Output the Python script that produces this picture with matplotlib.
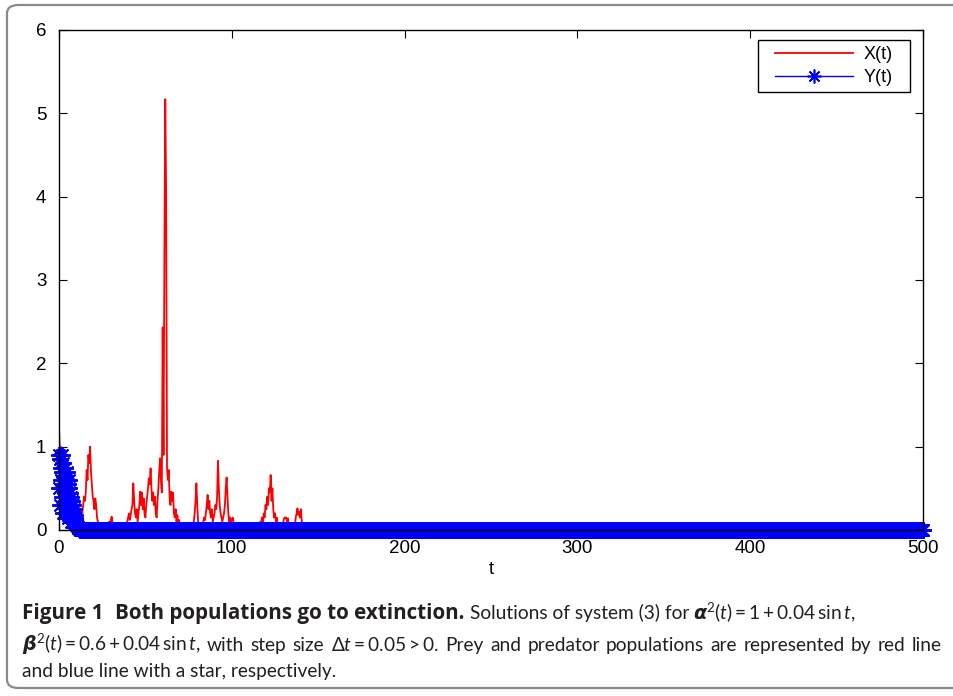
import numpy as np
import matplotlib
matplotlib.use("Agg")
import matplotlib.pyplot as plt
from matplotlib.patches import FancyBboxPatch
from matplotlib.path import Path
from matplotlib import font_manager

# prey X(t), sampled every 0.5 from t = 0 to 145 (zero afterwards)
x_step = 0.5
x_vals = [
    1.22, 0.95, 1.0, 0.75, 0.6, 0.55, 0.8, 0.65, 0.5, 0.55,
    0.45, 0.35, 0.4, 0.45, 0.3, 0.2, 0.15, 0.1, 0.06, 0.03,
    0.02, 0.04, 0.08, 0.12, 0.1, 0.18, 0.25, 0.2, 0.3, 0.4,
    0.35, 0.45, 0.72, 0.6, 0.9, 0.8, 1.0, 0.7, 0.55, 0.4,
    0.35, 0.25, 0.38, 0.3, 0.15, 0.1, 0.05, 0.03, 0.02, 0.01,
    0.02, 0.05, 0.03, 0.01, 0.0, 0.0, 0.02, 0.06, 0.1, 0.05,
    0.12, 0.16, 0.08, 0.03, 0.01, 0.0, 0.0, 0.0, 0.01, 0.0,
    0.0, 0.0, 0.01, 0.02, 0.0, 0.01, 0.03, 0.05, 0.08, 0.1,
    0.15, 0.2, 0.12, 0.18, 0.25, 0.3, 0.56, 0.35, 0.2, 0.15,
    0.25, 0.1, 0.2, 0.3, 0.46, 0.3, 0.45, 0.25, 0.38, 0.2,
    0.15, 0.3, 0.4, 0.5, 0.62, 0.55, 0.74, 0.5, 0.35, 0.45,
    0.3, 0.4, 0.2, 0.15, 0.35, 0.5, 0.7, 0.86, 0.6, 0.45,
    2.43, 0.9, 3.32, 5.17, 4.06, 0.75, 0.6, 0.72, 0.4, 0.3,
    0.46, 0.35, 0.45, 0.2, 0.15, 0.25, 0.1, 0.18, 0.08, 0.12,
    0.05, 0.02, 0.0, 0.0, 0.0, 0.0, 0.0, 0.0, 0.0, 0.0,
    0.0, 0.0, 0.0, 0.0, 0.02, 0.05, 0.1, 0.2, 0.35, 0.56,
    0.3, 0.1, 0.05, 0.02, 0.0, 0.02, 0.05, 0.1, 0.15, 0.12,
    0.2, 0.3, 0.42, 0.25, 0.35, 0.2, 0.15, 0.25, 0.1, 0.15,
    0.2, 0.3, 0.25, 0.4, 0.83, 0.5, 0.3, 0.2, 0.15, 0.1,
    0.15, 0.2, 0.3, 0.5, 0.63, 0.4, 0.2, 0.1, 0.15, 0.08,
    0.12, 0.15, 0.1, 0.05, 0.02, 0.0, 0.0, 0.0, 0.0, 0.0,
    0.0, 0.0, 0.0, 0.0, 0.0, 0.0, 0.0, 0.0, 0.0, 0.0,
    0.0, 0.0, 0.0, 0.0, 0.0, 0.0, 0.0, 0.0, 0.0, 0.0,
    0.0, 0.02, 0.05, 0.1, 0.08, 0.15, 0.1, 0.2, 0.15, 0.3,
    0.25, 0.4, 0.3, 0.5, 0.45, 0.66, 0.35, 0.5, 0.25, 0.15,
    0.2, 0.1, 0.15, 0.05, 0.02, 0.0, 0.0, 0.0, 0.0, 0.05,
    0.12, 0.15, 0.14, 0.15, 0.1, 0.14, 0.05, 0.0, 0.0, 0.0,
    0.0, 0.0, 0.0, 0.05, 0.15, 0.2, 0.26, 0.18, 0.22, 0.15,
    0.25, 0.1, 0.05, 0.0, 0.0, 0.0, 0.0, 0.0, 0.0, 0.0,
    0.0,
]

# predator Y(t), sampled every 0.25 from t = 0 to 12 (zero afterwards)
y_step = 0.25
y_early = [
    0.9, 0.5, 0.85, 0.3, 0.75, 0.6, 0.9, 0.4, 0.7, 0.2, 0.8, 0.55,
    0.65, 0.3, 0.75, 0.45, 0.6, 0.2, 0.7, 0.4, 0.55, 0.15, 0.6, 0.35,
    0.5, 0.25, 0.45, 0.1, 0.4, 0.3, 0.35, 0.1, 0.3, 0.2, 0.25, 0.08,
    0.18, 0.12, 0.15, 0.06, 0.1, 0.05, 0.06, 0.03, 0.04, 0.02, 0.02, 0.01,
    0.0,
]

t_end = 500
x_ticks = [0, 100, 200, 300, 400, 500]
y_ticks = [0, 1, 2, 3, 4, 5, 6]

n_x = int(t_end / x_step) + 1
n_y = int(t_end / y_step) + 1
t_x = np.arange(n_x) * x_step
t_y = np.arange(n_y) * y_step
x_full = np.array(x_vals + [0.0] * (n_x - len(x_vals)))
y_full = np.array(y_early + [0.0] * (n_y - len(y_early)))


def has_bold(name):
    for f in font_manager.fontManager.ttflist:
        if f.name == name:
            w = f.weight
            if isinstance(w, str):
                w = font_manager.weight_dict.get(w, 400)
            if w >= 600:
                return True
    return False


def first_bold(cands):
    for c in cands:
        if has_bold(c):
            return c
    return "DejaVu Sans"


cap_font = first_bold(["Lato", "Open Sans", "Noto Sans", "Roboto"])
bold_font = first_bold(["Open Sans", "Noto Sans", "Lato", "Roboto"])

plt.rcParams["font.family"] = ["Liberation Sans", "DejaVu Sans"]
plt.rcParams["font.size"] = 13.5
plt.rcParams["mathtext.fontset"] = "custom"
plt.rcParams["mathtext.rm"] = cap_font
plt.rcParams["mathtext.it"] = cap_font + ":italic"
plt.rcParams["mathtext.bf"] = cap_font + ":bold:italic"

W, H = 954, 696
fig = plt.figure(figsize=(W / 100, H / 100), dpi=100)

# outer frame of the figure panel
frame = FancyBboxPatch((7 / W, 8 / H), 1.2, 1 - 13 / H,
                       boxstyle="round,pad=0,rounding_size=0.012",
                       transform=fig.transFigure, fill=False,
                       edgecolor="#8a8a8a", linewidth=1.6)
fig.patches.append(frame)

ax = fig.add_axes([59 / W, 1 - 530 / H, 864 / W, 500 / H])

ax.plot(t_x, x_full, color="#ff0000", linewidth=1.3, label="X(t)")
ax.plot(t_y, y_full, color="#0000ff", linewidth=1.0, marker=(8, 2, 0),
        markersize=12, markeredgewidth=1.4, clip_on=False, label="Y(t)")

ax.set_xlim(0, t_end)
ax.set_ylim(0, 6)
ax.set_xticks(x_ticks)
ax.set_yticks(y_ticks)
ax.tick_params(direction="in", length=6, width=0.8, top=True, right=True,
               labelsize=13.5)
ax.tick_params(axis="x", pad=7)
ax.tick_params(axis="y", pad=9)
for sp in ax.spines.values():
    sp.set_linewidth(1.0)
ax.set_xlabel("t", fontsize=13.5, labelpad=3)

# legend, frame widened sideways a little more than on top/bottom
leg_fs = 13.0
side = 11  # px of extra frame on the left and right


def wide_box(x0, y0, width, height, mutation_size):
    x1 = x0 + width + side
    x0 = x0 - side
    y1 = y0 + height
    return Path([(x0, y0), (x1, y0), (x1, y1), (x0, y1), (x0, y0)], closed=True)


leg = ax.legend(loc="upper right",
                bbox_to_anchor=((910 - side - 59) / 864, 490 / 500),
                borderaxespad=0, fancybox=False, edgecolor="black",
                framealpha=1, handlelength=4.3, handletextpad=0.6,
                labelspacing=0.33, borderpad=0.34,
                prop={"size": leg_fs})
leg.get_frame().set_boxstyle(wide_box)
leg.get_frame().set_linewidth(1.0)
for h in leg.legend_handles:
    h.set_markersize(10)
    h.set_markeredgewidth(1.2)

# caption
renderer = fig.canvas.get_renderer()
ink = "#231f20"


def width_of(s, size, family, weight="normal"):
    t = fig.text(0, 0, s, fontsize=size, family=family, fontweight=weight)
    w = t.get_window_extent(renderer).width
    t.remove()
    return w


line3 = "and blue line with a star, respectively."
cap_size = 10 * 314 / width_of(line3, 10, cap_font)

fig_label = "Figure 1"
title_bold = "Both populations go to extinction."
bold_gap = 12
bold_size = 10 * (444 - bold_gap) / (width_of(fig_label, 10, bold_font, "bold")
                                     + width_of(title_bold, 10, bold_font, "bold"))


def put(x, y, s, size, family, weight="normal"):
    t = fig.text(x / W, 1 - y / H, s, fontsize=size, family=family,
                 fontweight=weight, va="baseline", ha="left", color=ink)
    return x + t.get_window_extent(renderer).width


# line 1
y1 = 619
x = put(22, y1, fig_label, bold_size, bold_font, "bold")
x = put(x + bold_gap, y1, title_bold, bold_size, bold_font, "bold")
x = put(x + 5, y1, "Solutions of system (3) for", cap_size, cap_font)
put(x + 4, y1, r"$\boldsymbol{\alpha}^2(t)=1+0.04\,\sin t$,", cap_size, cap_font)

# line 2, justified to the full caption width
words2 = [r"$\boldsymbol{\beta}^2(t)=0.6+0.04\,\sin t$,", "with", "step", "size",
          r"$\Delta t=0.05>0$.", "Prey", "and", "predator", "populations", "are",
          "represented", "by", "red", "line"]
ws = [width_of(w, cap_size, cap_font) for w in words2]
gap = (942 - 22 - sum(ws)) / (len(words2) - 1)
x = 22
for w, wd in zip(words2, ws):
    put(x, 651, w, cap_size, cap_font)
    x += wd + gap

# line 3
put(22, 677, line3, cap_size, cap_font)

fig.savefig("out.png", dpi=100)
